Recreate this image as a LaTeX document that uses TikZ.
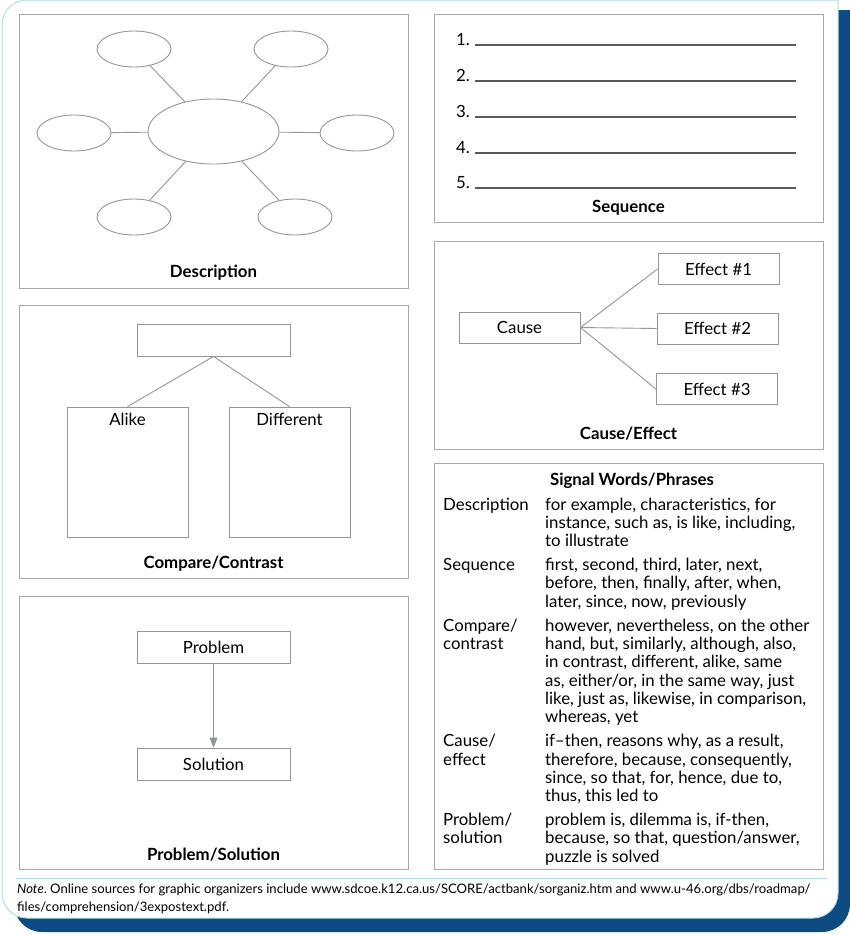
\documentclass[tikz,border=0pt]{standalone}
\usepackage{fontspec}
\setmainfont{Lato}
\usetikzlibrary{positioning,arrows.meta,shapes.geometric}
\definecolor{framenavy}{RGB}{12,76,130}
\definecolor{frameedge}{RGB}{178,222,232}
\definecolor{panelgray}{RGB}{168,168,168}
\definecolor{shapegray}{RGB}{150,150,150}
\definecolor{flowgray}{RGB}{140,150,150}
\definecolor{rulegray}{RGB}{90,90,90}
\newcommand{\bodyfont}{\fontsize{16.8}{18.3}\selectfont}
\newcommand{\notefont}{\fontsize{13.1}{18}\selectfont}
\frenchspacing

\begin{document}
\begin{tikzpicture}[x=1pt,y=-1pt,
 panel/.style={draw=panelgray,line width=1pt,anchor=north west,inner sep=0pt,minimum width=389pt},
 paneltitle/.style={font=\bodyfont\bfseries,inner sep=0pt},
 blob/.style={ellipse,draw=shapegray,line width=0.9pt,minimum width=74pt,minimum height=36pt,inner sep=0pt},
 cbox/.style={draw=shapegray,line width=0.9pt,minimum width=153pt,minimum height=32pt,font=\bodyfont,inner sep=0pt},
 effbox/.style={draw=shapegray,line width=0.9pt,minimum width=121pt,minimum height=31pt,font=\bodyfont,inner sep=0pt},
 link/.style={draw=shapegray,line width=0.9pt},
 flow/.style={draw=flowgray,line width=1pt,-{Triangle[length=10pt,width=8pt]}},
 rule/.style={draw=rulegray,line width=1.2pt}]
\useasboundingbox (0,0) rectangle (850,935);
% frame
\fill[framenavy,rounded corners=28pt] (850,10) -- (850,932) -- (14,932) -- (14,10);
\fill[white,rounded corners=25pt] (2,0) -- (2,918) -- (838,918) -- (838,0);
\draw[frameedge,line width=1pt,rounded corners=25pt] (838,0) -- (838,918) -- (2,918) -- (2,0) -- (838,0);
\draw[frameedge,line width=1pt] (16,878) -- (827,878);

% description
\node[panel,minimum height=274pt] (desc) at (19,14) {};
\node[blob,minimum width=131pt,minimum height=65pt] (hub) at (213.5,131.5) {};
\node[blob] (tl) at (134,49) {};
\node[blob] (tr) at (291,49) {};
\node[blob] (ml) at (74,133) {};
\node[blob] (mr) at (357,133) {};
\node[blob] (bl) at (134,217) {};
\node[blob] (br) at (295,217) {};
\foreach \o in {tl,tr,ml,mr,bl,br} \draw[link] (hub) -- (\o);
\node[paneltitle] (desctitle) at (213.5,273) {Description};

% compare/contrast
\node[panel,minimum height=273pt] (comp) at (19,305) {};
\node[cbox] (topic) at (213.5,340) {};
\node[cbox,minimum width=121pt,minimum height=130pt] (alike) at (127.5,472) {};
\node[cbox,minimum width=121pt,minimum height=130pt] (diff) at (289.5,472) {};
\node[font=\bodyfont,below=3pt of alike.north] (alikelbl) {Alike};
\node[font=\bodyfont,below=3pt of diff.north] (difflbl) {Different};
\draw[link] (topic.south) -- (alike.north);
\draw[link] (topic.south) -- (diff.north);
\node[paneltitle] (comptitle) at (213.5,564) {Compare/Contrast};

% problem/solution
\node[panel,minimum height=273pt] (prob) at (19,596) {};
\node[cbox] (problem) at (213.5,647) {Problem};
\node[cbox] (solution) at (213.5,764) {Solution};
\draw[flow] (problem) -- (solution);
\node[paneltitle] (probtitle) at (213.5,855) {Problem/Solution};

% sequence
\node[panel,minimum height=208pt] (seq) at (434,14) {};
\foreach \i/\y in {1/45,2/81,3/117,4/153,5/188} {
 \node[font=\bodyfont,anchor=base west,inner sep=0pt] (num\i) at (456,\y) {\i.};
 \coordinate (ruleA\i) at (475,\y);
 \coordinate (ruleB\i) at (796,\y);
 \draw[rule] (ruleA\i) -- (ruleB\i);
}
\node[paneltitle] (seqtitle) at (628.5,208) {Sequence};

% cause/effect
\node[panel,minimum height=208pt] (cause) at (434,241) {};
\node[effbox] (causebox) at (519.5,327.5) {Cause};
\node[effbox] (eff1) at (718.5,269) {Effect \#1};
\node[effbox] (eff2) at (717.5,328.5) {Effect \#2};
\node[effbox] (eff3) at (717,389) {Effect \#3};
\foreach \e in {eff1,eff2,eff3} \draw[link] (causebox.east) -- (\e.west);
\node[paneltitle] (causetitle) at (628.5,434) {Cause/Effect};

% signal words
\node[panel,minimum height=406pt] (signal) at (434,463) {};
\node[paneltitle] (sigtitle) at (632,481) {Signal Words/Phrases};
\node[font=\bodyfont,anchor=north west,inner sep=0pt] (sigtable) at (443,497) {%
\begin{tabular}{@{}p{102pt}@{}p{290pt}@{}}
Description & for example, characteristics, for\newline instance, such as, is like, including,\newline to illustrate\\[5.7pt]
Sequence & first, second, third, later, next,\newline before, then, finally, after, when,\newline later, since, now, previously\\[5.7pt]
Compare/\newline contrast & however, nevertheless, on the other\newline hand, but, similarly, although, also,\newline in contrast, different, alike, same\newline as, either/or, in the same way, just\newline like, just as, likewise, in comparison,\newline whereas, yet\\[5.7pt]
Cause/\newline effect & if--then, reasons why, as a result,\newline therefore, because, consequently,\newline since, so that, for, hence, due to,\newline thus, this led to\\[5.7pt]
Problem/\newline solution & problem is, dilemma is, if-then,\newline because, so that, question/answer,\newline puzzle is solved
\end{tabular}};

% note
\node[font=\notefont,anchor=north west,align=left,inner sep=0pt] (note) at (17,884) {\textit{Note}. Online sources for graphic organizers include www.sdcoe.k12.ca.us/SCORE/actbank/sorganiz.htm and www.u-46.org/dbs/roadmap/\\files/comprehension/3expostext.pdf.};
\end{tikzpicture}
\end{document}
